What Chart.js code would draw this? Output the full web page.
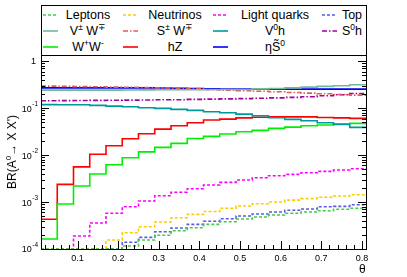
<!DOCTYPE html>
<html>
<head>
<meta charset="utf-8">
<script src="https://cdn.jsdelivr.net/npm/chart.js@4.4.1/dist/chart.umd.min.js"></script>
<style>
  body { margin: 0; background: #fff; }
  #wrap { position: relative; width: 407px; height: 277px; font-family: "Liberation Sans", Arial, sans-serif; }
  #c { position: absolute; left: 0; top: 0; }
  .lbox { position: absolute; left: 41px; top: 5px; width: 324px; height: 49px; border: 1px solid #000; border-bottom: none; background: #fff; }
  .lt { position: absolute; font-size: 12.5px; transform: translate(-50%, -50%); white-space: nowrap; color: #000; }
  .lt sup { font-size: 8.5px; vertical-align: 5px; line-height: 0; }
  .ls { position: absolute; }
  .ytitle { position: absolute; left: 12px; top: 152px; font-size: 12px; white-space: nowrap; transform: translate(-50%, -50%) rotate(-90deg); }
  .ytitle sup { font-size: 8px; vertical-align: 5px; line-height: 0; }
  .xtitle { position: absolute; left: 359px; top: 262px; font-size: 12px; line-height: 14px; }
</style>
</head>
<body>
<div id="wrap">
  <canvas id="c" width="407" height="277"></canvas>
  <div class="lbox" id="legend"></div>
  <div class="ytitle">BR(A<sup>0</sup>&#8594; X X')</div>
  <div class="xtitle">&#952;</div>
</div>
<script>
// bin edges in theta (20 bins of 0.04)
const thetaEdges = [0.01, 0.05, 0.09, 0.13, 0.17, 0.21, 0.25, 0.29, 0.33, 0.37, 0.41,
                    0.45, 0.49, 0.53, 0.57, 0.61, 0.65, 0.69, 0.73, 0.77, 0.81];

// branching ratios per bin (0 = empty bin)
const leptons     = [0, 0, 0, 0, 0, 1.16e-4, 1.55e-4, 1.96e-4, 2.45e-4, 2.84e-4, 3.35e-4, 3.81e-4, 4.35e-4, 4.8e-4, 5.29e-4, 5.75e-4, 6.13e-4, 6.53e-4, 7.0e-4, 7.35e-4];
const neutrinos   = [0, 0, 0, 0, 1.55e-4, 2.22e-4, 2.98e-4, 3.75e-4, 4.63e-4, 5.47e-4, 6.28e-4, 7.35e-4, 8.22e-4, 9.2e-4, 1.0e-3, 1.1e-3, 1.18e-3, 1.26e-3, 1.34e-3, 1.43e-3];
const lightQuarks = [0, 0, 1.89e-4, 3.57e-4, 5.75e-4, 7.94e-4, 1.05e-3, 1.36e-3, 1.61e-3, 1.92e-3, 2.3e-3, 2.62e-3, 2.94e-3, 3.29e-3, 3.63e-3, 3.88e-3, 4.2e-3, 4.5e-3, 4.8e-3, 5.11e-3];
const topQuark    = [0, 0, 0, 0, 0, 1.39e-4, 1.77e-4, 2.33e-4, 2.8e-4, 3.35e-4, 3.9e-4, 4.41e-4, 5.04e-4, 5.55e-4, 6.13e-4, 6.66e-4, 7.1e-4, 7.94e-4, 8.1e-4, 8.77e-4];
const vpmWmp      = [0.2415, 0.2415, 0.2415, 0.2415, 0.2415, 0.243, 0.244, 0.245, 0.245, 0.246, 0.249, 0.249, 0.249, 0.257, 0.262, 0.270, 0.280, 0.290, 0.298, 0.313];
const spmWmp      = [0.294, 0.290, 0.287, 0.284, 0.280, 0.277, 0.273, 0.270, 0.266, 0.262, 0.245, 0.240, 0.235, 0.228, 0.222, 0.215, 0.208, 0.202, 0.195, 0.189];
const v0h         = [0.1186, 0.118, 0.118, 0.114, 0.110, 0.107, 0.1015, 0.0985, 0.0938, 0.0894, 0.0834, 0.0795, 0.0745, 0.0686, 0.0622, 0.0575, 0.0537, 0.0486, 0.045, 0.0388];
const s0h         = [0.143, 0.144, 0.145, 0.146, 0.147, 0.148, 0.149, 0.150, 0.151, 0.153, 0.155, 0.157, 0.159, 0.162, 0.165, 0.169, 0.175, 0.183, 0.193, 0.205];
const wpWm        = [1.63e-4, 9.06e-4, 2.19e-3, 3.94e-3, 6.2e-3, 8.77e-3, 1.17e-2, 1.46e-2, 1.77e-2, 2.25e-2, 2.5e-2, 2.8e-2, 3.13e-2, 3.35e-2, 3.7e-2, 3.94e-2, 4.2e-2, 4.35e-2, 4.57e-2, 4.72e-2];
const hZ          = [4.3e-4, 2.38e-3, 5.6e-3, 1.04e-2, 1.58e-2, 2.22e-2, 2.84e-2, 3.57e-2, 4.2e-2, 4.86e-2, 5.56e-2, 5.83e-2, 6.2e-2, 6.4e-2, 6.5e-2, 6.5e-2, 6.5e-2, 6.3e-2, 6.2e-2, 6.04e-2];
const etaS0       = [0.270, 0.270, 0.270, 0.270, 0.270, 0.270, 0.270, 0.268, 0.265, 0.262, 0.258, 0.255, 0.254, 0.254, 0.254, 0.254, 0.254, 0.254, 0.254, 0.254];

// axis ticks
const xTicks = [0.1, 0.2, 0.3, 0.4, 0.5, 0.6, 0.7, 0.8];
const yTicks = [1e-4, 1e-3, 1e-2, 1e-1, 1];
const yTickExp = ['-4', '-3', '-2', '-1', ''];

const yMin = 1e-4, yMax = 1.35;
const DOT = [3, 2], DASHDOT = [5, 2, 1.5, 2];

// legend entries, row by row (4 columns x 3 rows)
const series = [
  { name: 'Leptons', html: 'Leptons', data: leptons, color: '#44cc44', dash: DOT, col: 0, row: 0 },
  { name: 'Neutrinos', html: 'Neutrinos', data: neutrinos, color: '#ffcc00', dash: DOT, col: 1, row: 0 },
  { name: 'Light quarks', html: 'Light quarks', data: lightQuarks, color: '#ff00ff', dash: DOT, col: 2, row: 0 },
  { name: 'Top', html: 'Top', data: topQuark, color: '#5a5ae6', dash: DOT, col: 3, row: 0 },
  { name: 'V±W∓', html: 'V<sup>±</sup> W<sup>∓</sup>', data: vpmWmp, color: '#6fbc96', dash: [], col: 0, row: 1 },
  { name: 'S±W∓', html: 'S<sup>±</sup> W<sup>∓</sup>', data: spmWmp, color: '#e25a5a', dash: DASHDOT, col: 1, row: 1 },
  { name: 'V0h', html: 'V<sup>0</sup>h', data: v0h, color: '#009999', dash: [], col: 2, row: 1 },
  { name: 'S0h', html: 'S<sup>0</sup>h', data: s0h, color: '#a000a0', dash: DASHDOT, col: 3, row: 1 },
  { name: 'W+W-', html: 'W<sup>+</sup>W<sup>-</sup>', data: wpWm, color: '#00ee00', dash: [], col: 0, row: 2 },
  { name: 'hZ', html: 'hZ', data: hZ, color: '#ff0000', dash: [], col: 1, row: 2 },
  { name: 'ηS0', html: 'ηS&#771;<sup>0</sup>', data: etaS0, color: '#0000ff', dash: [], col: 2, row: 2 }
];

// legend layout
const colSample = [43, 123, 213, 322];
const colText = [88, 175, 275, 352];
const rowY = [14, 30, 46];

const legend = document.getElementById('legend');
series.forEach(s => {
  const y = rowY[s.row] - 5;
  const svg = `<svg class="ls" style="left:${colSample[s.col] - 42}px;top:${y - 3}px" width="16" height="6">
    <line x1="0" y1="3" x2="15" y2="3" stroke="${s.color}" stroke-width="1.6" stroke-dasharray="${s.dash.join(',')}"/></svg>`;
  legend.insertAdjacentHTML('beforeend', svg);
  legend.insertAdjacentHTML('beforeend',
    `<span class="lt" style="left:${colText[s.col] - 42}px;top:${y}px">${s.html}</span>`);
});

// histogram outline points: left edge of each bin, plus the closing right edge
function histPoints(vals) {
  const pts = vals.map((v, i) => ({ x: thetaEdges[i], y: v > 0 ? v : yMin }));
  pts.push({ x: thetaEdges[vals.length], y: vals[vals.length - 1] > 0 ? vals[vals.length - 1] : yMin });
  return pts;
}

const frameAndTicks = {
  id: 'frameAndTicks',
  afterDraw(chart) {
    const { ctx, chartArea: a, scales: { x, y } } = chart;
    ctx.save();
    ctx.strokeStyle = '#000';
    ctx.lineWidth = 1;
    ctx.beginPath();
    // y ticks, left and right
    for (let d = -4; d <= 0; d++) {
      for (let k = 1; k <= 9; k++) {
        const v = k * Math.pow(10, d);
        if (v < yMin || v > yMax) continue;
        const py = Math.round(y.getPixelForValue(v)) + 0.5;
        const len = k === 1 ? 8 : 4;
        ctx.moveTo(a.left, py); ctx.lineTo(a.left + len, py);
        ctx.moveTo(a.right, py); ctx.lineTo(a.right - len, py);
      }
    }
    // x ticks along the bottom
    for (let i = 1; i <= 40; i++) {
      const v = i * 0.02;
      if (v < 0.01 || v > 0.81) continue;
      const px = Math.round(x.getPixelForValue(v)) + 0.5;
      const len = i % 5 === 0 ? 8 : 4;
      ctx.moveTo(px, a.bottom); ctx.lineTo(px, a.bottom - len);
    }
    ctx.stroke();
    ctx.strokeRect(Math.round(a.left) + 0.5, Math.round(a.top) + 0.5,
                   Math.round(a.right - a.left), Math.round(a.bottom - a.top));
    // y tick labels with superscript exponent
    ctx.fillStyle = '#000';
    ctx.textBaseline = 'middle';
    yTicks.forEach((v, i) => {
      const py = y.getPixelForValue(v);
      const exp = yTickExp[i];
      let xr = a.left - 3;
      if (exp) {
        ctx.font = '6.5px "Liberation Sans", Arial, sans-serif';
        ctx.textAlign = 'right';
        ctx.fillText(exp, xr, py - 4);
        xr -= ctx.measureText(exp).width + 0.5;
        ctx.font = '9px "Liberation Sans", Arial, sans-serif';
        ctx.fillText('10', xr, py + 1);
      } else {
        ctx.font = '9px "Liberation Sans", Arial, sans-serif';
        ctx.textAlign = 'right';
        ctx.fillText('1', xr - 2, py);
      }
    });
    ctx.restore();
  }
};

new Chart(document.getElementById('c'), {
  type: 'line',
  data: {
    datasets: series.map(s => ({
      label: s.name,
      data: histPoints(s.data),
      borderColor: s.color,
      borderWidth: 1.6,
      borderDash: s.dash,
      stepped: 'before',
      pointRadius: 0,
      fill: false
    }))
  },
  options: {
    responsive: false,
    animation: false,
    layout: { padding: { top: 55, right: 41, left: 0, bottom: 0 } },
    plugins: { legend: { display: false }, tooltip: { enabled: false } },
    scales: {
      x: {
        type: 'linear',
        min: 0.01,
        max: 0.81,
        afterFit(s) { s.height = 28; },
        afterBuildTicks(s) { s.ticks = xTicks.map(v => ({ value: v })); },
        ticks: {
          autoSkip: false,
          maxRotation: 0,
          padding: 4,
          color: '#000',
          font: { family: '"Liberation Sans", Arial, sans-serif', size: 9 },
          callback: v => v.toFixed(1)
        },
        grid: { display: false, drawTicks: false },
        border: { display: false }
      },
      y: {
        type: 'logarithmic',
        min: yMin,
        max: yMax,
        afterFit(s) { s.width = 41; },
        afterBuildTicks(s) { s.ticks = yTicks.map(v => ({ value: v })); },
        ticks: { display: false },
        grid: { display: false, drawTicks: false },
        border: { display: false }
      }
    }
  },
  plugins: [frameAndTicks]
});
</script>
</body>
</html>
